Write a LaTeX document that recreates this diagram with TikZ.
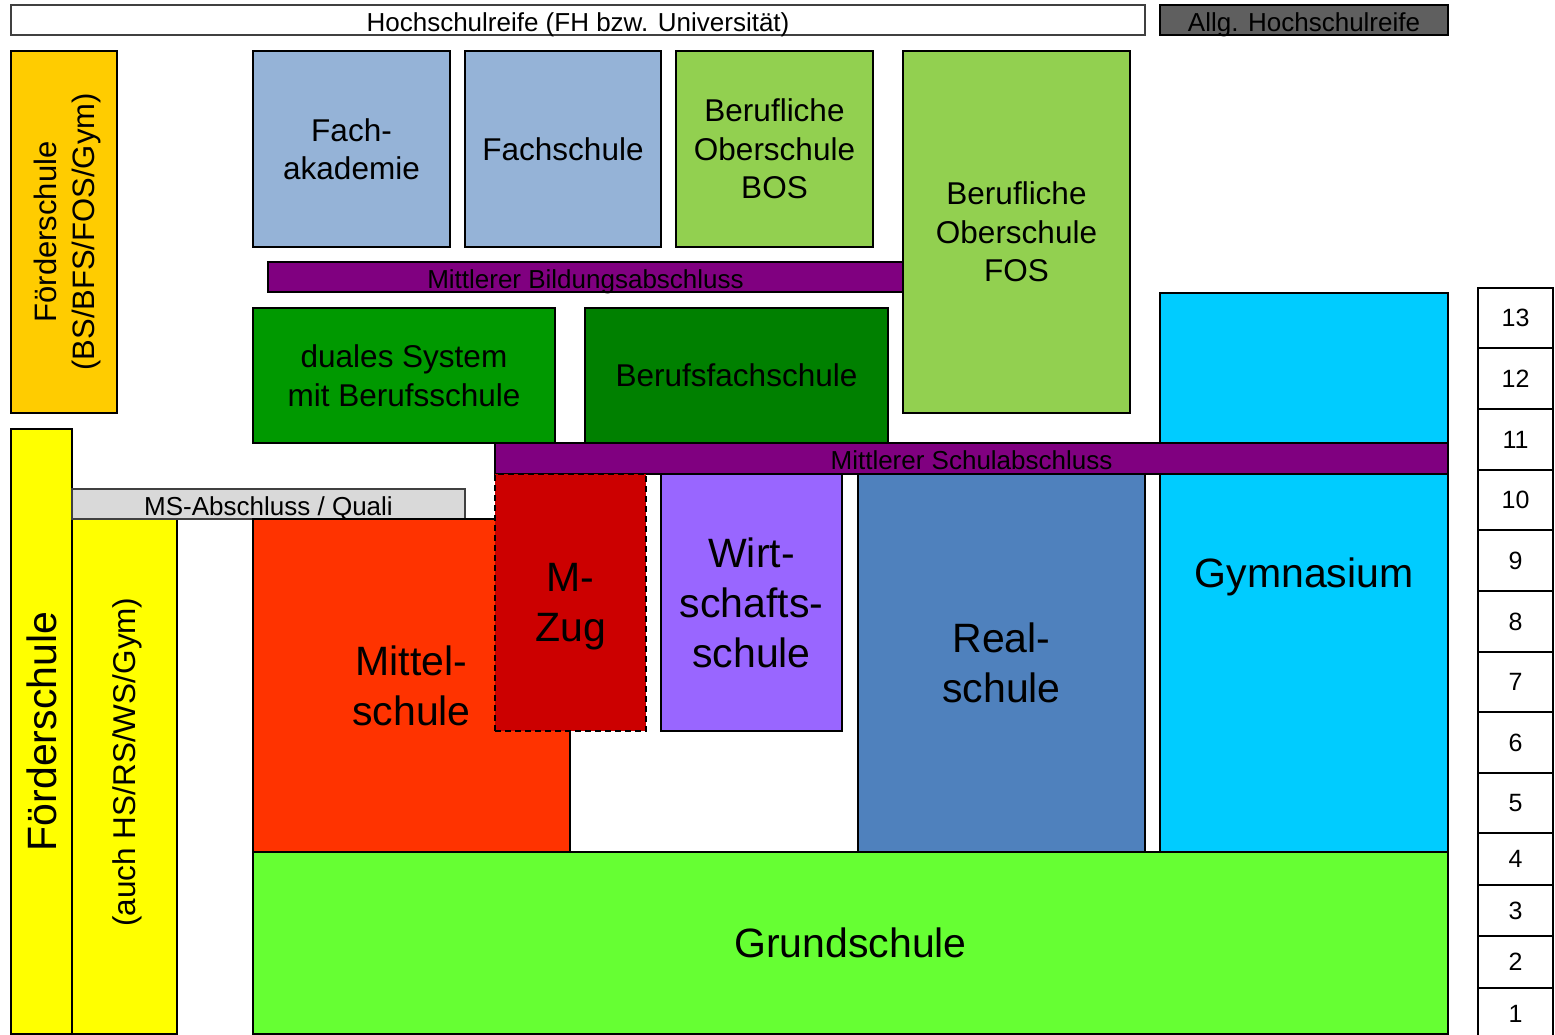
\documentclass[tikz,border=0pt]{standalone}
\usepackage{fontspec}
\setmainfont{Liberation Sans}
\definecolor{cOrange}{HTML}{FFCC00}
\definecolor{cLBlue}{HTML}{95B3D7}
\definecolor{cLGreen}{HTML}{92D050}
\definecolor{cPurple}{HTML}{800080}
\definecolor{cDual}{HTML}{009900}
\definecolor{cBFS}{HTML}{008000}
\definecolor{cCyan}{HTML}{00CCFF}
\definecolor{cYellow}{HTML}{FFFF00}
\definecolor{cLGray}{HTML}{D9D9D9}
\definecolor{cMittel}{HTML}{FF3300}
\definecolor{cMZug}{HTML}{CC0000}
\definecolor{cWirt}{HTML}{9966FF}
\definecolor{cReal}{HTML}{4F81BD}
\definecolor{cGrund}{HTML}{66FF33}
\definecolor{cAllg}{HTML}{5F5F5F}
\begin{document}
\begin{tikzpicture}[x=1pt,y=-1pt,
  box/.style={draw=black, line width=1.9pt, rectangle, inner sep=0pt, outer sep=0pt, align=center},
  small/.style={font=\fontsize{26}{30}\selectfont, text height=24pt, text depth=2pt},
  mid/.style={font=\fontsize{31.5}{38.5}\selectfont},
  big/.style={font=\fontsize{41}{50}\selectfont},
  grade/.style={box, fill=white, minimum width=75pt, font=\fontsize{25}{30}\selectfont}]
\useasboundingbox (0,0) rectangle (1555,1034);
% top bars
\node[box, draw=black!75, fill=white, small, minimum width=1134pt, minimum height=30pt] (hsr) at (578,20) {Hochschulreife (FH bzw. Universität)};
\node[box, fill=cAllg, small, minimum width=288pt, minimum height=30pt] (allg) at (1304,20) {Allg. Hochschulreife};
% upper left
\node[box, fill=cOrange, minimum width=106pt, minimum height=362pt] (foeo) at (64,232) {};
\node[rotate=90, align=center, inner sep=0pt, font=\fontsize{31}{38}\selectfont] (foeotxt) at (67,232) {Förderschule\\(BS/BFS/FOS/Gym)};
% upper schools
\node[box, fill=cLBlue, mid, minimum width=197pt, minimum height=196pt] (fakad) at (351.5,149) {Fach-\\akademie};
\node[box, fill=cLBlue, mid, minimum width=196pt, minimum height=196pt] (fs) at (563,149) {Fachschule};
\node[box, fill=cLGreen, mid, minimum width=197pt, minimum height=196pt] (bos) at (774.5,149) {Berufliche\\Oberschule\\BOS};
\node[box, fill=cLGreen, mid, minimum width=227pt, minimum height=362pt] (fos) at (1016.5,232) {Berufliche\\Oberschule\\FOS};
\node[box, fill=cPurple, small, minimum width=635pt, minimum height=30pt] (mba) at (585.5,277) {Mittlerer Bildungsabschluss};
\node[box, fill=cDual, mid, minimum width=302pt, minimum height=135pt] (dual) at (404,375.5) {duales System\\mit Berufsschule};
\node[box, fill=cBFS, mid, minimum width=303pt, minimum height=135pt] (bfs) at (736.5,375.5) {Berufsfachschule};
% Gymnasium
\node[box, fill=cCyan, big, text depth=0pt, minimum width=288pt, minimum height=559pt] (gym) at (1304,572.5) {Gymnasium};
\node[box, fill=cPurple, small, minimum width=953pt, minimum height=31pt] (msa) at (971.5,458.5) {Mittlerer Schulabschluss};
% left Förderschule
\node[box, fill=cYellow, rotate=90, big, minimum width=605pt, minimum height=61pt] (foeu) at (41.5,731.5) {Förderschule};
\node[box, fill=cYellow, minimum width=105pt, minimum height=515pt] (auch) at (124.5,776.5) {};
\node[rotate=90, font=\fontsize{31.5}{38}\selectfont, inner sep=0pt] (auchtxt) at (127,762) {(auch HS/RS/WS/Gym)};
\node[box, draw=black!75, fill=cLGray, small, minimum width=393pt, minimum height=30pt] (msq) at (268.5,504) {MS-Abschluss / Quali};
% lower secondary
\node[box, fill=cMittel, big, minimum width=317pt, minimum height=333pt] (mittel) at (411.5,685.5) {Mittel-\\schule};
\node[box, fill=cMZug, big, text depth=0pt, dash pattern=on 6pt off 4pt, minimum width=151pt, minimum height=257pt] (mzug) at (570.5,602.5) {M-\\Zug};
\node[box, fill=cWirt, big, minimum width=181pt, minimum height=257pt] (wirt) at (751.5,602.5) {Wirt-\\schafts-\\schule};
\node[box, fill=cReal, big, minimum width=287pt, minimum height=378pt] (real) at (1001.5,663) {Real-\\schule};
\node[box, fill=cGrund, big, minimum width=1195pt, minimum height=182pt] (grund) at (850.5,943) {Grundschule};
% grades
\node[grade, minimum height=60pt] (g13) at (1515.5,318) {13};
\node[grade, minimum height=61pt] (g12) at (1515.5,378.5) {12};
\node[grade, minimum height=61pt] (g11) at (1515.5,439.5) {11};
\node[grade, minimum height=60pt] (g10) at (1515.5,500) {10};
\node[grade, minimum height=61pt] (g9) at (1515.5,560.5) {9};
\node[grade, minimum height=61pt] (g8) at (1515.5,621.5) {8};
\node[grade, minimum height=60pt] (g7) at (1515.5,682) {7};
\node[grade, minimum height=61pt] (g6) at (1515.5,742.5) {6};
\node[grade, minimum height=60pt] (g5) at (1515.5,803) {5};
\node[grade, minimum height=52pt] (g4) at (1515.5,859) {4};
\node[grade, minimum height=51pt] (g3) at (1515.5,910.5) {3};
\node[grade, minimum height=52pt] (g2) at (1515.5,962) {2};
\node[grade, minimum height=52pt] (g1) at (1515.5,1014) {1};
\end{tikzpicture}
\end{document}
